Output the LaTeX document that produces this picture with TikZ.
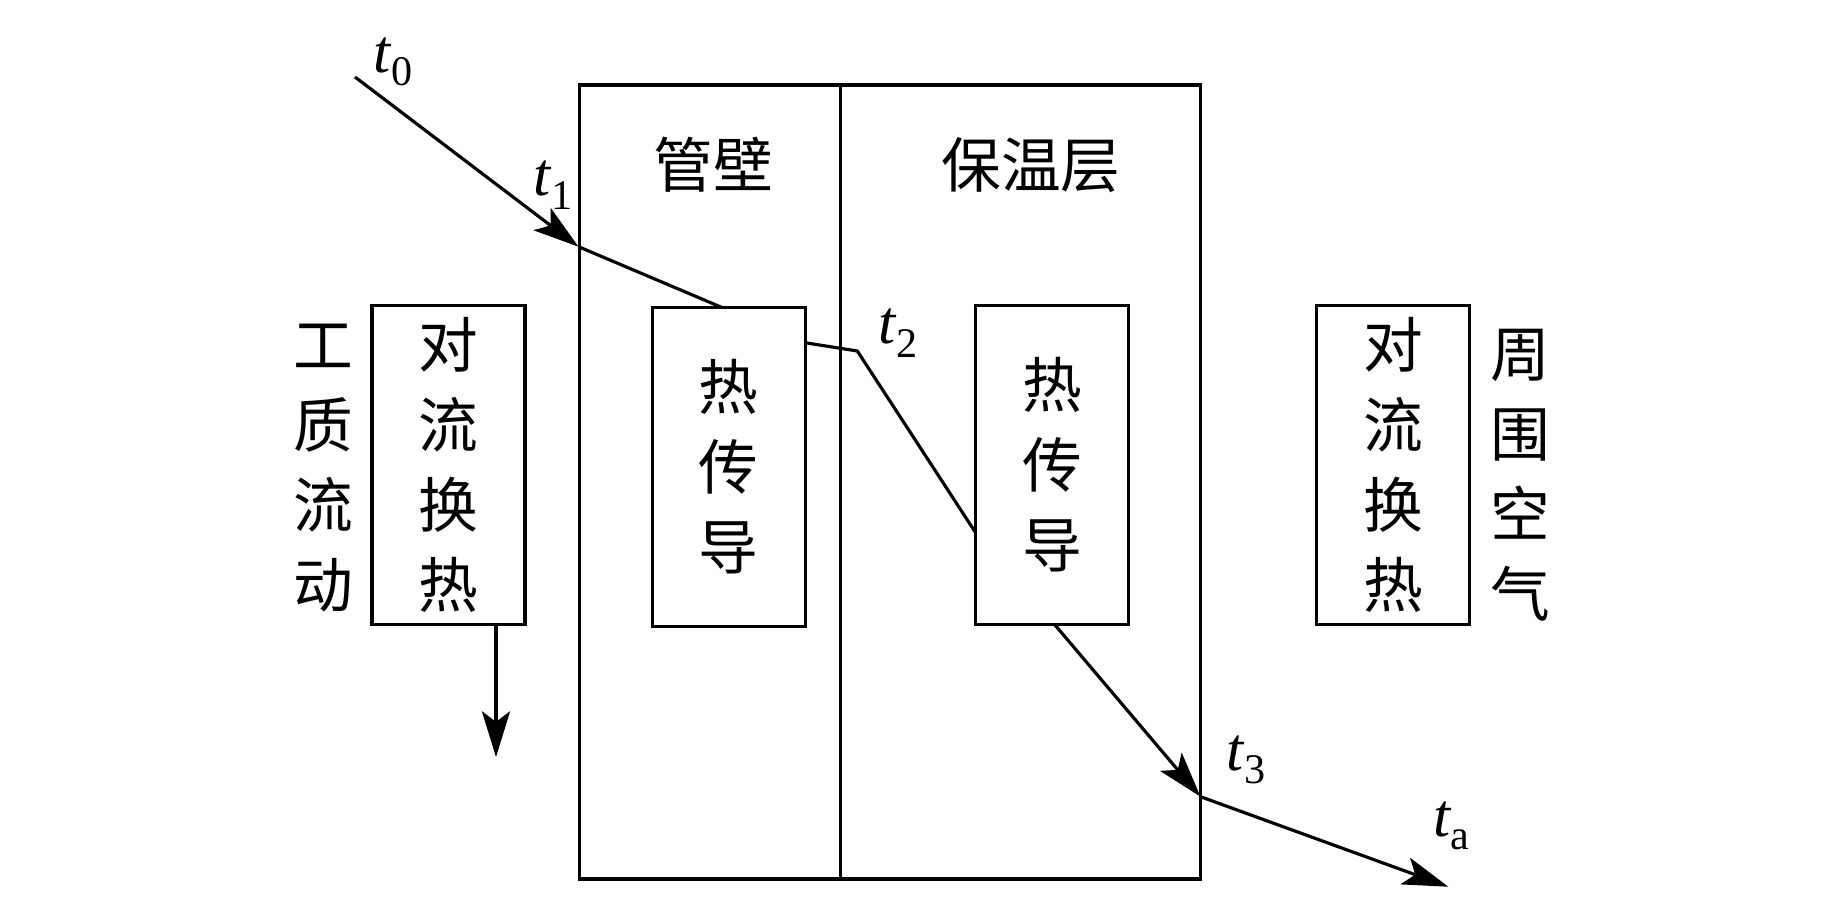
\documentclass[tikz,border=0pt]{standalone}
\usepackage{amsmath,amssymb}
\usepackage{fontspec}
\newfontfamily\cjk{Noto Sans CJK SC}
\newfontfamily\tms{Liberation Serif}
\usepackage{tikz}
\usetikzlibrary{arrows.meta}

\newcommand{\tsub}[1]{{\tms\itshape t}\raisebox{-0.22em}{\tms\fontsize{24}{24}\selectfont #1}}

\tikzset{
  hz/.style={font=\cjk\fontsize{34}{45.5}\selectfont, align=center, inner sep=0pt},
  tlab/.style={font=\fontsize{35}{35}\selectfont, inner sep=0pt},
  layer/.style={draw, line width=1.8pt, minimum width=#1, minimum height=15.88cm, inner sep=0pt},
  cbox/.style={draw, line width=1.8pt, fill=white, minimum width=3.06cm, minimum height=6.38cm,
               inner sep=0pt, align=center, font=\cjk\fontsize{34}{45.5}\selectfont},
  arr/.style={-{Stealth[length=26pt,width=16pt,inset=6pt]}, line width=1.8pt}
}

\begin{document}
\begin{tikzpicture}[x=0.02cm,y=-0.02cm]
  \useasboundingbox (0,0) rectangle (1843,898);
  % wall and insulation layers
  \node[layer=5.22cm] (wall) at (710,482) {};
  \node[layer=7.2cm] (ins) at (1020.2,482) {};
  \node[hz] (wallname) at (713.5,165) {管壁};
  \node[hz] (insname) at (1031,165) {保温层};

  % temperature line
  \coordinate (t0) at (355,77);
  \coordinate (t1) at (578.5,246.7);
  \coordinate (p1) at (805,342.7);
  \coordinate (t2) at (857.3,351);
  \coordinate (p2) at (976,533.3);
  \coordinate (p3) at (1055,625);
  \coordinate (t3) at (1200.5,796.7);
  \coordinate (ta) at (1448.3,886.7);
  \draw[arr] (t0) -- (t1);
  \draw[line width=1.8pt] (t1) -- (p1) -- (t2) -- (p2) -- (p3);
  \draw[arr] (p3) -- (t3);
  \draw[arr] (t3) -- (ta);

  % boxes
  \node[cbox] (convin) at (448.5,464.8) {对\\流\\换\\热};
  \node[cbox] (condw) at (728.7,466.8) {热\\传\\导};
  \node[cbox] (condi) at (1052,465) {热\\传\\导};
  \node[cbox] (convout) at (1393.3,465) {对\\流\\换\\热};
  \node[hz] (fluid) at (323,468) {工\\质\\流\\动};
  \node[hz] (air) at (1520,475) {周\\围\\空\\气};
  \coordinate (flowend) at (496,757);
  \draw[arr] (convin.south -| flowend) -- (flowend);

  % labels
  \node[tlab] (lt0) at (393,62) {\tsub{0}};
  \node[tlab] (lt1) at (553,185) {\tsub{1}};
  \node[tlab] (lt2) at (898,333) {\tsub{2}};
  \node[tlab] (lt3) at (1246,760) {\tsub{3}};
  \node[tlab] (lta) at (1451,826) {\tsub{a}};
\end{tikzpicture}
\end{document}
